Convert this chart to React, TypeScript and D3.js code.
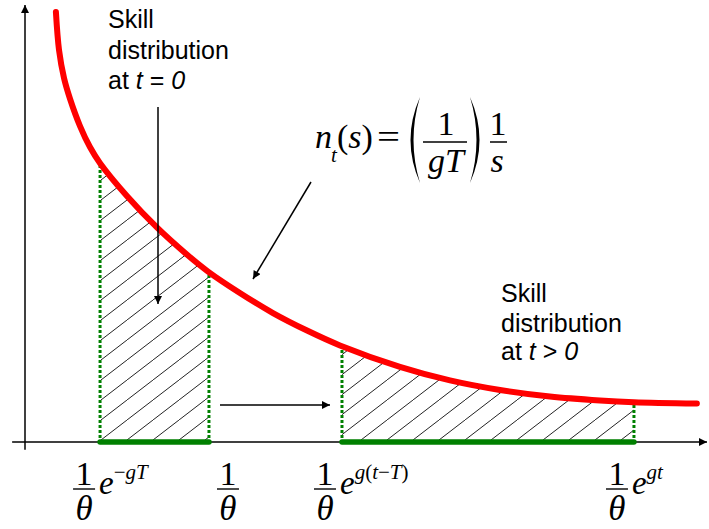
import React from "react";
import * as d3 from "d3";

// red curve n_t(s)
const curveS = [0.168, 0.185, 0.212, 0.245, 0.299, 0.353, 0.408, 0.554, 0.717, 0.88, 0.995, 1.168, 1.348, 1.533, 1.712, 2.038, 2.31, 2.582, 2.853, 3.125, 3.31, 3.652];
const curveN = [9.84, 8.97, 8.33, 7.85, 7.23, 6.75, 6.38, 5.63, 4.91, 4.29, 3.9, 3.41, 2.95, 2.55, 2.21, 1.72, 1.41, 1.19, 1.04, 0.95, 0.91, 0.88];

// positions on the s axis: e^-gT/θ, 1/θ, e^g(t-T)/θ, e^gt/θ
const markS = [0.408, 1.0, 1.723, 3.31];
const bands = [[0, 1], [2, 3]];

// exponent pieces of each tick label: [text, italic]
const tickExps: [string, boolean][][] = [
  [["−", false], ["g", true], ["T", true]],
  [],
  [["g", true], ["(", false], ["t", true], ["−", false], ["T", true], [")", false]],
  [["g", true], ["t", true]],
];
const tickShift = [-16, 19, -17, -17];

const W = 709;
const H = 529;
const serif = "'Liberation Serif', 'Times New Roman', serif";
const sans = "'Liberation Sans', Arial, sans-serif";

export default function App() {
  const x = d3.scaleLinear().domain([0, 3.707]).range([25, 707]);
  const y = d3.scaleLinear().domain([0, 10]).range([442, 5]);
  const pts: [number, number][] = curveS.map((s, i) => [s, curveN[i]]);

  const line = d3.line<[number, number]>()
    .x((d) => x(d[0]))
    .y((d) => y(d[1]))
    .curve(d3.curveCatmullRom.alpha(0.5));
  // area under the curve, used to clip the hatching and the dotted edges
  const under = (line(pts) || "") + `L${x(curveS[curveS.length - 1])},${y(0)}L${x(curveS[0])},${y(0)}Z`;

  const green = "#008000";

  return (
    <svg width={W} height={H} style={{ position: "absolute", left: 0, top: 0, background: "#fff" }}>
      <defs>
        <pattern id="hatch" patternUnits="userSpaceOnUse" x={-3} width={26} height={20}>
          <path d="M-2.6,22 L28.6,-2" stroke="#222" strokeWidth={1} />
        </pattern>
        <clipPath id="under">
          <path d={under} />
        </clipPath>
        <marker id="arr" viewBox="0 0 10 10" refX={10} refY={5} markerUnits="userSpaceOnUse"
          markerWidth={9} markerHeight={8} orient="auto">
          <path d="M0,0 L10,5 L0,10 z" fill="#000" />
        </marker>
      </defs>

      {/* hatched regions */}
      <g clipPath="url(#under)">
        {bands.map(([a, b], i) => (
          <rect key={i} x={x(markS[a])} y={0} width={x(markS[b]) - x(markS[a])} height={y(0)}
            fill="url(#hatch)" />
        ))}
        {markS.map((s, i) => (
          <line key={i} x1={x(s)} x2={x(s)} y1={0} y2={y(0)} stroke={green}
            strokeWidth={3} strokeDasharray="3 2" />
        ))}
      </g>

      {/* axes */}
      <line x1={x(0)} x2={x(0)} y1={y(-0.18)} y2={y(10)} stroke="#000" strokeWidth={1.5} markerEnd="url(#arr)" />
      <line x1={x(-0.07)} x2={x(3.707)} y1={y(0)} y2={y(0)} stroke="#000" strokeWidth={1.5} markerEnd="url(#arr)" />

      {bands.map(([a, b], i) => (
        <line key={i} x1={x(markS[a])} x2={x(markS[b])} y1={y(0)} y2={y(0)} stroke={green}
          strokeWidth={5.5} strokeLinecap="round" />
      ))}

      <path d={line(pts) || ""} fill="none" stroke="#ff0000" strokeWidth={6} strokeLinecap="round" />

      {/* arrows */}
      <line x1={158} y1={107} x2={158} y2={304} stroke="#000" strokeWidth={1.5} markerEnd="url(#arr)" />
      <line x1={311} y1={182} x2={253} y2={279} stroke="#000" strokeWidth={1.5} markerEnd="url(#arr)" />
      <line x1={220} y1={405} x2={330} y2={405} stroke="#000" strokeWidth={1.5} markerEnd="url(#arr)" />

      {/* labels */}
      <text fontFamily={sans} fontSize={25}>
        <tspan x={108} y={28}>Skill</tspan>
        <tspan x={108} y={58.5}>distribution</tspan>
        <tspan x={108} y={89}>at <tspan fontStyle="italic">t</tspan> = <tspan fontStyle="italic">0</tspan></tspan>
      </text>
      <text fontFamily={sans} fontSize={25}>
        <tspan x={501} y={302}>Skill</tspan>
        <tspan x={501} y={331.5}>distribution</tspan>
        <tspan x={501} y={360}>at <tspan fontStyle="italic">t</tspan> &gt; <tspan fontStyle="italic">0</tspan></tspan>
      </text>

      {/* formula n_t(s) = (1/gT) 1/s */}
      <g fontFamily={serif}>
        <text x={315} y={148} fontSize={34} fontStyle="italic">n</text>
        <text x={331} y={162} fontSize={21} fontStyle="italic">t</text>
        <text x={337} y={148} fontSize={34}>(<tspan fontStyle="italic">s</tspan>)</text>
        <text x={377} y={148} fontSize={34} textLength={23} lengthAdjust="spacingAndGlyphs">=</text>
        <path d="M420,97 Q401,140 420,183 Q407,140 420,97 Z" fill="#000" />
        <path d="M470,97 Q489,140 470,183 Q483,140 470,97 Z" fill="#000" />
        <text x={446} y={135} fontSize={34} textAnchor="middle">1</text>
        <line x1={423} x2={467} y1={142} y2={142} stroke="#000" strokeWidth={1.5} />
        <text x={446} y={172} fontSize={34} textAnchor="middle" fontStyle="italic">gT</text>
        <text x={498} y={135} fontSize={34} textAnchor="middle">1</text>
        <line x1={490} x2={507} y1={142} y2={142} stroke="#000" strokeWidth={1.5} />
        <text x={497} y={172} fontSize={34} textAnchor="middle" fontStyle="italic">s</text>
      </g>

      {/* tick labels */}
      <g fontFamily={serif}>
        {markS.map((s, i) => {
          const cx = x(s) + tickShift[i];
          const exp = tickExps[i];
          return (
            <g key={i}>
              <text x={cx} y={485} fontSize={34} textAnchor="middle">1</text>
              <line x1={cx - 11} x2={cx + 11} y1={489} y2={489} stroke="#000" strokeWidth={1.4} />
              <text x={cx} y={520} fontSize={35} textAnchor="middle" fontStyle="italic">θ</text>
              {exp.length > 0 && (
                <text x={cx + 15} y={494} fontSize={33} fontStyle="italic">
                  e
                  <tspan dy={-15} fontSize={21}>
                    {exp.map(([t, it], j) => (
                      <tspan key={j} fontStyle={it ? "italic" : "normal"}>{t}</tspan>
                    ))}
                  </tspan>
                </text>
              )}
            </g>
          );
        })}
      </g>
    </svg>
  );
}
